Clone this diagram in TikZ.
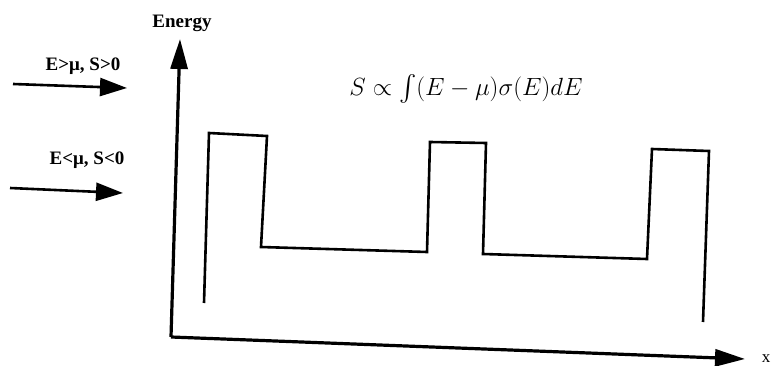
\documentclass[tikz,border=0pt]{standalone}
\usepackage{fontspec}
\setmainfont{Liberation Serif}
\usepackage{amsmath,amssymb}
\usetikzlibrary{arrows.meta,positioning}

\begin{document}
\begin{tikzpicture}[x=1pt,y=-1pt,
  axis/.style={line width=3.2pt,-{Triangle[length=30pt,width=17pt]}},
  inarrow/.style={line width=2.6pt,-{Triangle[length=27pt,width=18pt]}},
  wave/.style={line width=2.6pt,line join=miter},
  lbl/.style={font=\bfseries\fontsize{19}{21}\selectfont,inner sep=0pt}]
\useasboundingbox (0,0) rectangle (774,366);
\clip (0,0) rectangle (774,366);
% axes (scan is a little rotated, so the ends are taken as they are)
\coordinate (origin) at (171,337);
\coordinate (ytip) at (180,39);
\coordinate (xtip) at (745,359);
\draw[axis] (origin) -- (ytip);
\draw[axis] (origin) -- (xtip);
\node[font=\bfseries\fontsize{19}{21}\selectfont,inner sep=0pt] (energy) at (182,23) {Energy};
\node[font=\fontsize{17}{19}\selectfont,inner sep=0pt] (xlab) at (766,359) {x};
% incoming electrons
\node[lbl] (hot) at (83,66) {E>μ, S>0};
\node[lbl] (cold) at (87,160) {E<μ, S<0};
\coordinate (hotin) at (13,84);
\coordinate (hotout) at (127,88);
\coordinate (coldin) at (10,188);
\coordinate (coldout) at (123,193);
\draw[inarrow] (hotin) -- (hotout);
\draw[inarrow] (coldin) -- (coldout);
% barrier profile
\draw[wave] (204,303) -- (209,133) -- (267,136) -- (261,247) -- (427,252)
  -- (430,142) -- (486,143) -- (483,254) -- (647,259)
  -- (652,149) -- (709,151) -- (703,322);
\node[font=\fontsize{26}{30}\selectfont,inner sep=0pt] (seebeck) at (466,89)
  {$S \propto \int (E-\mu)\sigma(E)dE$};
\end{tikzpicture}
\end{document}
